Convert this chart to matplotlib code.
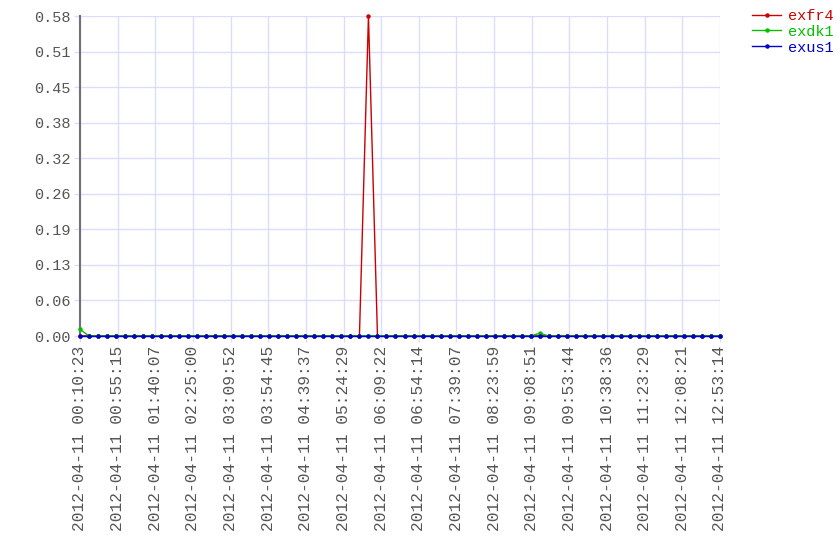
import pandas as pd
import matplotlib
matplotlib.use('Agg')
import matplotlib.pyplot as plt

plt.rcParams['font.family'] = ['Liberation Mono', 'DejaVu Sans Mono']

start_time = '2012-04-11 00:10:23'
end_time = '2012-04-11 12:53:14'
n_points = 72

tick_labels = ['2012-04-11 00:10:23', '2012-04-11 00:55:15', '2012-04-11 01:40:07',
               '2012-04-11 02:25:00', '2012-04-11 03:09:52', '2012-04-11 03:54:45',
               '2012-04-11 04:39:37', '2012-04-11 05:24:29', '2012-04-11 06:09:22',
               '2012-04-11 06:54:14', '2012-04-11 07:39:07', '2012-04-11 08:23:59',
               '2012-04-11 09:08:51', '2012-04-11 09:53:44', '2012-04-11 10:38:36',
               '2012-04-11 11:23:29', '2012-04-11 12:08:21', '2012-04-11 12:53:14']

exfr4 = [0, 0, 0, 0, 0, 0, 0, 0, 0, 0, 0, 0, 0, 0, 0, 0, 0, 0,
         0, 0, 0, 0, 0, 0, 0, 0, 0, 0, 0, 0, 0, 0, 0.577, 0, 0, 0,
         0, 0, 0, 0, 0, 0, 0, 0, 0, 0, 0, 0, 0, 0, 0, 0, 0, 0,
         0, 0, 0, 0, 0, 0, 0, 0, 0, 0, 0, 0, 0, 0, 0, 0, 0, 0]
exdk1 = [0.012, 0, 0, 0, 0, 0, 0, 0, 0, 0, 0, 0, 0, 0, 0, 0, 0, 0,
         0, 0, 0, 0, 0, 0, 0, 0, 0, 0, 0, 0, 0, 0, 0, 0, 0, 0,
         0, 0, 0, 0, 0, 0, 0, 0, 0, 0, 0, 0, 0, 0, 0, 0.005, 0, 0,
         0, 0, 0, 0, 0, 0, 0, 0, 0, 0, 0, 0, 0, 0, 0, 0, 0, 0]
exus1 = [0, 0, 0, 0, 0, 0, 0, 0, 0, 0, 0, 0, 0, 0, 0, 0, 0, 0,
         0, 0, 0, 0, 0, 0, 0, 0, 0, 0, 0, 0, 0, 0, 0, 0, 0, 0,
         0, 0, 0, 0, 0, 0, 0, 0, 0, 0, 0, 0, 0, 0, 0, 0, 0, 0,
         0, 0, 0, 0, 0, 0, 0, 0, 0, 0, 0, 0, 0, 0, 0, 0, 0, 0]

series = [('exfr4', exfr4, '#cc0000'), ('exdk1', exdk1, '#00c000'), ('exus1', exus1, '#0000cc')]

times = pd.date_range(start_time, end_time, periods=n_points)
tick_times = pd.to_datetime(tick_labels)

fig = plt.figure(figsize=(8.4, 5.6), dpi=100)
ax = fig.add_axes([80 / 840, 1 - 336 / 560, 640 / 840, 320 / 560])

for name, vals, col in series:
    ax.plot(times, vals, color=col, lw=1, marker='o', ms=2.2, label=name, clip_on=False, zorder=3)

ymax = max(exfr4)
ax.set_ylim(0, ymax)
ax.set_xlim(times[0], times[-1])
yt = [ymax * i / 9 for i in range(10)]
ax.set_yticks(yt)
ax.set_yticklabels(['%.2f' % v for v in yt])
ax.set_xticks(tick_times)
ax.set_xticklabels(tick_labels, rotation=90)

grid_col = '#dcdcff'
ax.grid(True, color=grid_col, lw=1)
ax.set_axisbelow(True)
ax.tick_params(colors=grid_col, labelcolor='#555555', labelsize=11, length=4, width=1, pad=3)
ax.tick_params(axis='x', labelsize=11.7)
for s in ['top', 'right']:
    ax.spines[s].set_visible(False)
for s in ['left', 'bottom']:
    ax.spines[s].set_color('#707078')
    ax.spines[s].set_linewidth(1.5)

leg = fig.legend(loc='upper left', bbox_to_anchor=(752 / 840, 1 - 9 / 560), frameon=False,
                 labelcolor='linecolor', fontsize=11, handlelength=1.9, handletextpad=0.45,
                 labelspacing=0.12, borderpad=0, borderaxespad=0)

fig.savefig('out.png', dpi=100)
